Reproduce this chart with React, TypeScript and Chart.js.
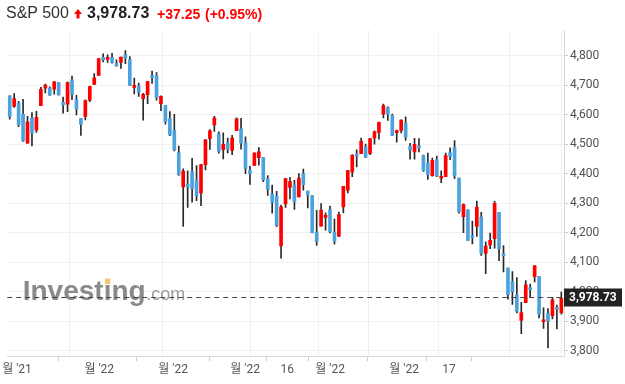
import React, { useEffect, useRef } from "react";
import { Chart, registerables } from "chart.js";

Chart.register(...registerables);

// ---- data (S&P 500 daily, 2021-11-26 .. 2022-05-25) ----
const dates = [
  "2021-11-26","2021-11-29","2021-11-30",
  "2021-12-01","2021-12-02","2021-12-03","2021-12-06","2021-12-07","2021-12-08","2021-12-09","2021-12-10",
  "2021-12-13","2021-12-14","2021-12-15","2021-12-16","2021-12-17","2021-12-20","2021-12-21","2021-12-22",
  "2021-12-23","2021-12-27","2021-12-28","2021-12-29","2021-12-30","2021-12-31",
  "2022-01-03","2022-01-04","2022-01-05","2022-01-06","2022-01-07","2022-01-10","2022-01-11","2022-01-12",
  "2022-01-13","2022-01-14","2022-01-18","2022-01-19","2022-01-20","2022-01-21","2022-01-24","2022-01-25",
  "2022-01-26","2022-01-27","2022-01-28","2022-01-31",
  "2022-02-01","2022-02-02","2022-02-03","2022-02-04","2022-02-07","2022-02-08","2022-02-09","2022-02-10",
  "2022-02-11","2022-02-14","2022-02-15","2022-02-16","2022-02-17","2022-02-18","2022-02-22","2022-02-23",
  "2022-02-24","2022-02-25","2022-02-28",
  "2022-03-01","2022-03-02","2022-03-03","2022-03-04","2022-03-07","2022-03-08","2022-03-09","2022-03-10",
  "2022-03-11","2022-03-14","2022-03-15","2022-03-16","2022-03-17","2022-03-18","2022-03-21","2022-03-22",
  "2022-03-23","2022-03-24","2022-03-25","2022-03-28","2022-03-29","2022-03-30","2022-03-31",
  "2022-04-01","2022-04-04","2022-04-05","2022-04-06","2022-04-07","2022-04-08","2022-04-11","2022-04-12",
  "2022-04-13","2022-04-14","2022-04-18","2022-04-19","2022-04-20","2022-04-21","2022-04-22","2022-04-25",
  "2022-04-26","2022-04-27","2022-04-28","2022-04-29",
  "2022-05-02","2022-05-03","2022-05-04","2022-05-05","2022-05-06","2022-05-09","2022-05-10","2022-05-11",
  "2022-05-12","2022-05-13","2022-05-16","2022-05-17","2022-05-18","2022-05-19","2022-05-20","2022-05-23",
  "2022-05-24","2022-05-25",
];

const opens = [
  4664.63,4628.75,4640.25,
  4602.82,4504.73,4589.49,4548.37,4631.97,4690.86,4691.00,4687.64,
  4710.30,4642.99,4636.46,4719.13,4652.50,4587.90,4594.96,4650.36,
  4703.96,4733.99,4795.49,4788.64,4794.23,4775.21,
  4778.14,4804.51,4787.99,4693.39,4697.66,4655.34,4669.14,4728.59,
  4733.56,4637.99,4632.24,4588.03,4547.35,4471.38,4356.32,4366.64,
  4408.43,4380.58,4336.19,4431.79,
  4519.57,4566.39,4535.41,4482.79,4505.75,4480.02,4547.00,4553.24,
  4506.27,4412.61,4429.28,4455.75,4456.06,4384.57,4332.74,4324.93,
  4155.77,4298.38,4354.17,
  4363.14,4322.56,4401.31,4342.12,4327.01,4202.66,4223.10,4252.55,
  4279.50,4202.75,4188.82,4288.14,4345.11,4407.34,4462.40,4469.10,
  4493.10,4469.98,4522.66,4541.09,4602.86,4624.20,4599.02,
  4540.32,4547.97,4572.45,4494.17,4474.65,4494.15,4462.64,4437.59,
  4394.30,4449.12,4385.63,4390.63,4472.26,4489.17,4385.83,4255.34,
  4278.14,4186.52,4222.58,4253.75,
  4130.61,4159.78,4181.18,4270.43,4128.17,4081.27,4035.18,3990.08,
  3903.95,3963.90,4013.02,4052.00,4051.98,3899.00,3927.76,3919.42,
  3942.94,3929.59,
];

const highs = [
  4664.63,4672.95,4646.02,
  4652.94,4595.46,4608.03,4612.60,4694.04,4705.06,4695.26,4713.57,
  4710.30,4660.47,4712.60,4731.99,4666.70,4587.90,4651.14,4697.67,
  4740.74,4791.49,4807.02,4804.06,4808.93,4786.83,
  4796.64,4818.62,4797.70,4725.01,4707.95,4673.02,4714.13,4748.83,
  4744.13,4665.13,4632.24,4611.55,4602.11,4494.52,4417.35,4411.01,
  4453.23,4428.74,4432.72,4516.89,
  4550.49,4595.31,4542.88,4539.66,4521.86,4531.32,4590.03,4588.92,
  4526.33,4426.22,4472.77,4489.55,4456.06,4394.60,4362.12,4341.51,
  4294.73,4385.34,4388.84,
  4378.45,4401.48,4416.78,4342.12,4327.01,4276.94,4299.40,4268.28,
  4291.01,4247.57,4271.05,4357.86,4412.67,4465.40,4481.75,4522.00,
  4501.07,4520.58,4546.03,4575.65,4637.30,4627.77,4603.07,
  4548.70,4583.50,4593.45,4503.94,4521.16,4520.41,4464.35,4471.00,
  4453.92,4460.46,4410.31,4471.03,4488.29,4512.94,4385.83,4299.02,
  4278.14,4240.71,4308.45,4269.68,
  4169.81,4200.10,4307.66,4270.43,4157.69,4081.27,4068.82,4049.09,
  3964.80,4038.88,4026.97,4090.72,4051.98,3945.96,3943.42,3981.88,
  3955.68,3999.33,
];

const lows = [
  4585.43,4625.26,4560.00,
  4510.27,4504.73,4495.12,4540.51,4631.97,4674.52,4665.98,4670.24,
  4667.60,4606.52,4611.22,4651.89,4600.22,4531.10,4583.16,4645.53,
  4703.96,4733.99,4780.04,4778.08,4775.33,4765.75,
  4758.17,4774.27,4699.44,4671.26,4662.74,4582.24,4638.27,4706.71,
  4650.29,4614.75,4568.70,4530.20,4477.95,4395.34,4222.62,4287.11,
  4304.80,4309.50,4292.46,4414.02,
  4483.53,4544.32,4470.39,4451.50,4471.47,4465.40,4547.00,4484.31,
  4401.41,4364.84,4429.28,4429.68,4373.81,4327.22,4267.11,4221.51,
  4114.65,4286.83,4315.12,
  4279.54,4322.56,4345.56,4284.98,4199.85,4157.87,4223.10,4209.80,
  4200.49,4161.72,4187.90,4267.92,4335.65,4390.57,4424.30,4469.10,
  4455.81,4465.17,4501.07,4517.69,4589.66,4581.32,4530.41,
  4507.57,4539.21,4514.17,4450.04,4450.30,4474.60,4408.38,4381.34,
  4392.70,4390.77,4370.30,4390.63,4448.76,4384.47,4267.62,4200.82,
  4175.04,4162.90,4188.63,4124.28,
  4062.51,4147.08,4148.91,4106.01,4067.91,3975.48,3958.17,3928.82,
  3858.87,3963.90,3983.99,4033.93,3911.91,3876.58,3810.32,3909.04,
  3875.13,3925.03,
];

const closes = [
  4594.62,4655.27,4567.00,
  4513.04,4577.10,4538.43,4591.67,4686.75,4701.21,4667.45,4712.02,
  4668.97,4634.09,4709.85,4668.67,4620.64,4568.02,4649.23,4696.56,
  4725.79,4791.19,4786.35,4793.06,4778.73,4766.18,
  4796.56,4793.54,4700.58,4696.05,4677.03,4670.29,4713.07,4726.35,
  4659.03,4662.85,4577.11,4532.76,4482.73,4397.94,4410.13,4356.45,
  4349.93,4326.51,4431.85,4515.55,
  4546.54,4589.38,4477.44,4500.53,4483.87,4521.54,4587.18,4504.08,
  4418.64,4401.67,4471.07,4475.01,4380.26,4348.87,4304.76,4225.50,
  4288.70,4384.65,4373.94,
  4306.26,4386.54,4363.49,4328.87,4201.09,4170.70,4277.88,4259.52,
  4204.31,4173.11,4262.45,4357.86,4411.67,4463.12,4461.18,4511.61,
  4456.24,4520.16,4543.06,4575.52,4631.60,4602.45,4530.41,
  4545.86,4582.64,4525.12,4481.15,4500.21,4488.28,4412.53,4397.45,
  4446.59,4392.59,4391.69,4462.21,4459.45,4393.66,4271.78,4296.12,
  4175.20,4183.96,4287.50,4131.93,
  4155.38,4175.48,4300.17,4146.87,4123.34,3991.24,4001.05,3935.18,
  3930.08,4023.89,4008.01,4088.85,3923.68,3900.79,3901.36,3973.75,
  3941.48,3978.73,
];

// x-axis: gridline positions (candle index units) and label positions/texts
const gridPositions = [2.52, 24.45, 44.45, 63.64, 75.0, 86.47, 106.47, 118.25];
const labelPositions = [1.62, 20.11, 36.74, 52.92, 62.36, 72.02, 88.65, 98.76];
const tickLabels = ["월 '21", "월 '22", "월 '22", "월 '22", "16", "월 '22", "월 '22", "17"];
const yTicks = [3800, 3900, 4000, 4100, 4200, 4300, 4400, 4500, 4600, 4700, 4800];

const instrument = "S&P 500";
const lastPrice = 3978.73;
const lastPriceText = "3,978.73";
const changeText = "+37.25";
const changePctText = "(+0.95%)";

const RED = "#ff0000";
const BLUE = "#4ca2dc";
const WICK = "#2a2a2a";
const AXIS_FONT = "Roboto, 'Noto Sans CJK KR', sans-serif";
const HEAD_FONT = "'Liberation Sans', Arial, sans-serif";

const X_MIN = -0.56;
const X_MAX = 124.6;
const Y_MIN = 3783.05;
const Y_MAX = 4888.1;

const watermarkPlugin = {
  id: "watermark",
  beforeDatasetsDraw(chart: any) {
    const ctx = chart.ctx;
    const x0 = chart.chartArea.left + 15.5;
    const base = 300;
    ctx.save();
    ctx.textBaseline = "alphabetic";
    ctx.textAlign = "left";
    ctx.font = `bold 28px ${HEAD_FONT}`;
    ctx.fillStyle = "#8a8a8a";
    const word = "Investing";
    ctx.fillText(word, x0, base);
    const wInvest = ctx.measureText("Invest").width;
    const wi = ctx.measureText("i").width;
    const wWord = ctx.measureText(word).width;
    // orange dot on the second "i"
    ctx.fillStyle = "#f7c471";
    const dotW = 5.4;
    ctx.fillRect(x0 + wInvest + (wi - dotW) / 2, base - 21.5, dotW, 5.6);
    ctx.font = `18px ${HEAD_FONT}`;
    ctx.fillStyle = "#9c9c9c";
    ctx.fillText(".com", x0 + wWord + 0.5, base);
    ctx.restore();
  },
};

const lastPricePlugin = {
  id: "lastPrice",
  afterDraw(chart: any) {
    const ctx = chart.ctx;
    const { left, right } = chart.chartArea;
    const y = Math.round(chart.scales.y.getPixelForValue(lastPrice)) - 0.5;
    ctx.save();
    ctx.strokeStyle = "#444444";
    ctx.lineWidth = 1;
    ctx.setLineDash([5, 4]);
    ctx.beginPath();
    ctx.moveTo(left, y);
    ctx.lineTo(right, y);
    ctx.stroke();
    ctx.setLineDash([]);
    ctx.fillStyle = "#222222";
    ctx.fillRect(right, y - 9, 58, 18);
    ctx.fillStyle = "#ffffff";
    ctx.font = `bold 12px ${AXIS_FONT}`;
    ctx.textAlign = "left";
    ctx.textBaseline = "middle";
    ctx.fillText(lastPriceText, right + 5, y + 0.5);
    ctx.restore();
  },
};

export default function App() {
  const canvasRef = useRef<HTMLCanvasElement | null>(null);

  useEffect(() => {
    if (!canvasRef.current) return;
    const idx = closes.map((_, i) => i);
    const bodyData = idx.map((i) => ({ x: i, y: [opens[i], closes[i]] }));
    const wickData = idx.map((i) => ({ x: i, y: [lows[i], highs[i]] }));
    const bodyColors = idx.map((i) => (closes[i] >= opens[i] ? RED : BLUE));

    const chart = new Chart(canvasRef.current, {
      type: "bar",
      data: {
        labels: dates,
        datasets: [
          {
            label: "wick",
            data: wickData as any,
            backgroundColor: WICK,
            barThickness: 1,
            grouped: false,
            order: 2,
            borderWidth: 0,
          } as any,
          {
            label: "body",
            data: bodyData as any,
            backgroundColor: bodyColors,
            barThickness: 3,
            grouped: false,
            order: 1,
            borderWidth: 0,
            minBarLength: 2,
          } as any,
        ],
      },
      options: {
        animation: false,
        responsive: false,
        maintainAspectRatio: false,
        layout: { padding: { left: 7, top: 30, right: 0, bottom: 0 } },
        plugins: {
          legend: { display: false },
          tooltip: { enabled: false },
        },
        scales: {
          x: {
            type: "linear",
            position: "bottom",
            min: X_MIN,
            max: X_MAX,
            offset: false,
            weight: 0,
            afterBuildTicks: (s: any) => {
              s.ticks = gridPositions.map((v) => ({ value: v }));
            },
            afterFit: (s: any) => {
              s.height = 0;
            },
            ticks: { display: false },
            grid: { color: "#f0f0f0", drawTicks: false, lineWidth: 1 },
            border: { color: "#dadada" },
          },
          x2: {
            type: "linear",
            position: "bottom",
            min: X_MIN,
            max: X_MAX,
            offset: false,
            weight: 1,
            afterBuildTicks: (s: any) => {
              s.ticks = labelPositions.map((v) => ({ value: v }));
            },
            afterFit: (s: any) => {
              s.height = 28;
            },
            ticks: {
              autoSkip: false,
              maxRotation: 0,
              padding: 2,
              color: "#555555",
              font: { size: 12, family: AXIS_FONT },
              callback: (_v: any, i: number) => tickLabels[i],
            },
            grid: { drawOnChartArea: false, drawTicks: true, tickLength: 5, color: "#cccccc" },
            border: { display: false },
          },
          y: {
            type: "linear",
            position: "right",
            min: Y_MIN,
            max: Y_MAX,
            afterBuildTicks: (s: any) => {
              s.ticks = yTicks.map((v) => ({ value: v }));
            },
            afterFit: (s: any) => {
              s.width = 61;
            },
            ticks: {
              padding: 2,
              color: "#505050",
              font: { size: 12, family: AXIS_FONT },
              callback: (v: any) => Number(v).toLocaleString("en-US"),
            },
            grid: { color: "#f0f0f0", drawTicks: true, tickLength: 4, tickColor: "#cfcfcf" },
            border: { color: "#dadada" },
          },
        },
      } as any,
      plugins: [watermarkPlugin, lastPricePlugin],
    });
    return () => chart.destroy();
  }, []);

  const head: React.CSSProperties = {
    position: "absolute",
    whiteSpace: "nowrap",
    fontFamily: HEAD_FONT,
    lineHeight: "20px",
  };

  return (
    <div style={{ position: "fixed", left: 0, top: 0, width: 625, height: 384, background: "#ffffff" }}>
      <canvas ref={canvasRef} width={625} height={384} style={{ position: "absolute", left: 0, top: 0 }} />
      <span style={{ ...head, left: 6, top: 3, fontSize: 16, color: "#333333" }}>{instrument}</span>
      <svg style={{ position: "absolute", left: 73.5, top: 9.3 }} width="8" height="10" viewBox="0 0 8 10">
        <polygon points="4,0 8,5 5.5,5 5.5,9.5 2.5,9.5 2.5,5 0,5" fill={RED} />
      </svg>
      <span style={{ ...head, left: 87, top: 3, fontSize: 16, fontWeight: "bold", color: "#222222" }}>{lastPriceText}</span>
      <span style={{ ...head, left: 157, top: 3.5, fontSize: 14, fontWeight: "bold", color: RED }}>{changeText}</span>
      <span style={{ ...head, left: 205, top: 3.5, fontSize: 14, fontWeight: "bold", color: RED }}>{changePctText}</span>
    </div>
  );
}
